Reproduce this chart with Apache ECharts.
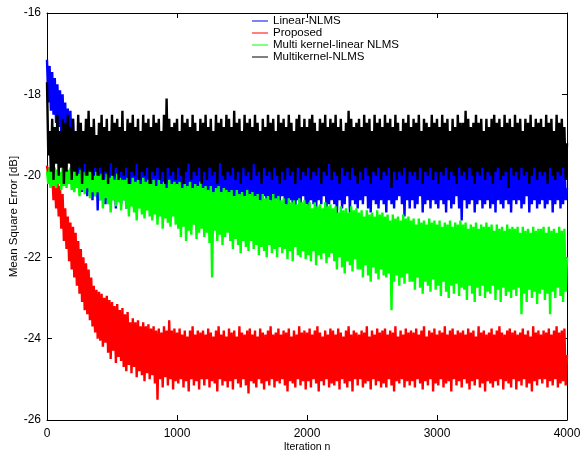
<!DOCTYPE html>
<html>
<head>
<meta charset="utf-8">
<script src="https://cdn.jsdelivr.net/npm/echarts@6/dist/echarts.min.js"></script>
<style>
html,body{margin:0;padding:0;background:#fff;}
#chart{width:580px;height:454px;}
</style>
</head>
<body>
<div id="chart"></div>
<script>
// Iterations between stored samples (samples at 0, 10, 20, ... 4000)
const iterStep = 10;

const seriesNames = ['Linear-NLMS', 'Proposed', 'Multi kernel-linear NLMS', 'Multikernel-NLMS'];

// Linear-NLMS (blue)
const linearNLMS = [
-17.15,-18.2,-17.3,-18.4,-17.45,-18.5,-17.6,-18.7,-17.75,-18.8,-17.9,-19.0,-18.0,-19.1,-18.2,-19.3,-18.35,-19.4,-18.4,-19.6,
-18.6,-19.8,-18.9,-20.0,-19.1,-20.2,-19.2,-20.4,-19.3,-20.3,-19.4,-20.5,-19.5,-20.4,-19.4,-20.6,-19.5,-20.5,-19.6,-20.85,
-19.5,-20.6,-19.6,-20.5,-19.4,-20.7,-19.6,-20.6,-19.5,-20.4,-19.7,-20.6,-19.5,-20.8,-19.6,-20.5,-19.4,-20.7,-19.6,-20.6,
-19.5,-20.8,-19.7,-20.5,-19.6,-20.7,-19.4,-20.6,-19.6,-20.9,-19.5,-20.6,-19.7,-20.5,-19.6,-20.7,-19.5,-20.6,-19.6,-20.8,
-19.4,-20.6,-19.6,-20.7,-19.5,-20.5,-19.7,-20.8,-19.6,-20.6,-19.5,-20.9,-19.6,-20.6,-19.4,-20.7,-19.6,-20.5,-19.5,-20.7,
-19.6,-20.6,-19.5,-20.8,-19.7,-20.6,-19.6,-21.0,-19.5,-20.7,-19.6,-20.5,-19.4,-20.8,-19.6,-20.6,-19.7,-20.7,-19.5,-20.9,
-19.6,-20.7,-19.5,-20.6,-19.7,-20.8,-19.6,-20.5,-19.4,-20.7,-19.6,-20.9,-19.5,-20.6,-19.7,-20.7,-19.6,-20.5,-19.5,-20.8,
-19.6,-20.6,-19.4,-20.7,-19.6,-20.8,-19.5,-20.6,-19.7,-21.0,-19.6,-20.7,-19.5,-20.5,-19.6,-20.8,-19.4,-20.6,-19.6,-20.7,
-19.5,-20.9,-19.7,-20.6,-19.6,-20.7,-19.5,-20.5,-19.6,-20.8,-19.4,-20.6,-19.6,-20.7,-19.7,-20.9,-19.5,-20.6,-19.6,-20.7,
-19.6,-20.5,-19.5,-20.7,-19.7,-20.8,-19.6,-20.6,-19.4,-20.7,-19.6,-20.9,-19.5,-20.6,-19.6,-20.8,-19.7,-20.5,-19.5,-20.7,
-19.6,-20.8,-19.4,-20.6,-19.6,-20.7,-19.5,-20.9,-19.7,-20.6,-19.6,-20.7,-19.5,-20.5,-19.6,-20.8,-19.4,-20.7,-19.6,-20.6,
-19.5,-20.7,-19.7,-21.0,-19.6,-20.6,-19.5,-20.8,-19.6,-20.7,-19.4,-20.5,-19.6,-20.9,-19.7,-20.6,-19.5,-20.7,-19.6,-20.8,
-19.6,-20.6,-19.5,-20.7,-19.7,-20.5,-19.6,-20.8,-19.4,-20.9,-19.6,-20.6,-19.5,-20.7,-19.6,-20.8,-19.7,-20.6,-19.5,-20.7,
-19.6,-20.9,-19.5,-20.6,-19.6,-20.7,-19.4,-20.8,-19.6,-20.6,-19.7,-20.5,-19.5,-20.7,-19.6,-21.0,-19.5,-20.6,-19.6,-20.8,
-19.7,-20.6,-19.5,-20.8,-19.6,-20.7,-19.5,-20.5,-19.6,-20.9,-19.4,-20.7,-19.6,-20.6,-19.7,-20.8,-19.5,-20.6,-19.6,-20.7,
-19.5,-20.8,-19.6,-20.6,-19.7,-20.7,-19.5,-20.9,-19.6,-20.6,-19.4,-20.8,-19.6,-20.7,-19.5,-20.5,-19.7,-20.8,-19.6,-21.1,
-19.6,-20.6,-19.5,-20.8,-19.6,-20.7,-19.7,-20.6,-19.5,-20.9,-19.6,-20.7,-19.4,-20.6,-19.6,-20.8,-19.5,-20.7,-19.7,-20.6,
-19.6,-20.8,-19.5,-20.7,-19.6,-20.9,-19.4,-20.6,-19.6,-20.7,-19.7,-20.8,-19.5,-20.6,-19.6,-20.7,-19.5,-20.9,-19.6,-20.6,
-19.7,-20.7,-19.5,-20.6,-19.6,-20.8,-19.5,-20.7,-19.6,-20.5,-19.4,-20.9,-19.6,-20.7,-19.7,-20.6,-19.5,-20.8,-19.6,-20.7,
-19.5,-20.6,-19.6,-20.8,-19.7,-20.7,-19.5,-20.6,-19.6,-20.9,-19.5,-20.7,-19.6,-20.6,-19.4,-20.8,-19.6,-20.7,-19.5,-20.6,
-20.3
];

// Proposed (red)
const proposed = [
-19.75,-20.0,-19.8,-20.3,-19.9,-20.6,-19.95,-20.8,-20.05,-21.0,-20.25,-21.3,-20.45,-21.6,-20.8,-21.8,-21.0,-22.1,-21.15,-22.3,
-21.25,-22.5,-21.4,-22.7,-21.6,-22.9,-21.8,-23.1,-22.0,-23.3,-22.15,-23.4,-22.3,-23.55,-22.5,-23.7,-22.7,-23.85,-22.8,-24.0,
-22.85,-24.05,-22.9,-24.2,-23.0,-24.1,-22.95,-24.35,-23.05,-24.5,-23.1,-24.3,-23.2,-24.6,-23.15,-24.45,-23.3,-24.55,-23.25,-24.7,
-23.4,-24.8,-23.35,-24.65,-23.6,-24.85,-23.5,-24.7,-23.6,-24.95,-23.55,-24.8,-23.7,-24.9,-23.6,-25.05,-23.7,-24.85,-23.65,-25.0,
-23.75,-24.9,-23.7,-25.1,-23.8,-25.5,-23.75,-25.0,-23.85,-25.2,-23.7,-24.95,-23.8,-25.15,-23.55,-25.0,-23.8,-25.25,-23.75,-25.05,
-23.85,-25.1,-23.75,-25.0,-23.9,-25.2,-23.8,-25.05,-23.95,-25.3,-23.8,-25.0,-23.7,-25.15,-23.9,-25.05,-23.8,-25.25,-23.85,-25.0,
-23.8,-25.15,-23.9,-25.0,-23.75,-25.2,-23.85,-25.05,-23.95,-25.1,-23.8,-25.3,-23.7,-25.0,-23.9,-25.15,-23.8,-25.05,-23.95,-25.2,
-23.75,-25.05,-23.85,-25.25,-23.8,-25.0,-23.95,-25.1,-23.7,-25.2,-23.85,-25.0,-23.9,-25.15,-23.8,-25.35,-23.75,-25.05,-23.9,-25.1,
-23.8,-25.2,-23.95,-25.0,-23.75,-25.1,-23.85,-25.25,-23.9,-25.05,-23.8,-25.15,-23.7,-25.0,-23.9,-25.2,-23.85,-25.05,-23.75,-25.1,
-23.9,-25.0,-23.8,-25.15,-23.85,-25.3,-23.75,-25.05,-23.95,-25.1,-23.8,-25.2,-23.9,-25.0,-23.7,-25.15,-23.85,-25.05,-23.8,-25.25,
-23.85,-25.05,-23.75,-25.2,-23.9,-25.0,-23.8,-25.1,-23.7,-25.3,-23.85,-25.05,-23.95,-25.15,-23.8,-25.0,-23.9,-25.2,-23.75,-25.1,
-23.8,-25.15,-23.9,-25.05,-23.75,-25.25,-23.85,-25.0,-23.95,-25.1,-23.8,-25.2,-23.7,-25.05,-23.9,-25.3,-23.8,-25.0,-23.85,-25.15,
-23.9,-25.0,-23.8,-25.2,-23.85,-25.1,-23.7,-25.05,-23.95,-25.25,-23.8,-25.0,-23.9,-25.15,-23.75,-25.05,-23.85,-25.2,-23.8,-25.1,
-23.75,-25.2,-23.9,-25.0,-23.8,-25.15,-23.85,-25.3,-23.7,-25.05,-23.95,-25.1,-23.8,-25.0,-23.9,-25.2,-23.75,-25.05,-23.85,-25.15,
-23.8,-25.05,-23.85,-25.2,-23.75,-25.0,-23.9,-25.1,-23.8,-25.25,-23.7,-25.05,-23.95,-25.15,-23.8,-25.0,-23.85,-25.3,-23.75,-25.1,
-23.9,-25.15,-23.8,-25.0,-23.85,-25.2,-23.7,-25.1,-23.9,-25.05,-23.8,-25.3,-23.75,-25.0,-23.9,-25.15,-23.8,-25.05,-23.85,-25.2,
-23.8,-25.0,-23.9,-25.1,-23.75,-25.25,-23.85,-25.05,-23.8,-25.15,-23.95,-25.0,-23.7,-25.2,-23.85,-25.1,-23.8,-25.3,-23.9,-25.05,
-23.85,-25.1,-23.75,-25.2,-23.9,-25.05,-23.8,-25.15,-23.7,-25.0,-23.85,-25.25,-23.9,-25.05,-23.8,-25.1,-23.75,-25.2,-23.85,-25.0,
-23.8,-25.25,-23.9,-25.05,-23.85,-25.15,-23.75,-25.0,-23.9,-25.2,-23.8,-25.1,-23.95,-25.3,-23.7,-25.05,-23.85,-25.15,-23.8,-25.0,
-23.9,-25.1,-23.8,-25.0,-23.85,-25.2,-23.75,-25.05,-23.9,-25.15,-23.8,-25.0,-23.7,-25.2,-23.85,-25.1,-23.8,-25.05,-23.75,-25.15,
-24.4
];

// Multi kernel-linear NLMS (green)
const multiKernelLinearNLMS = [
-19.9,-20.2,-19.8,-20.3,-19.9,-20.25,-19.8,-20.3,-19.85,-20.2,-19.9,-20.35,-19.8,-20.25,-19.9,-20.3,-19.85,-20.2,-19.8,-20.35,
-19.9,-20.4,-19.85,-20.3,-19.95,-20.5,-19.85,-20.35,-19.9,-20.45,-20.0,-20.3,-19.85,-20.55,-19.9,-20.4,-20.0,-20.5,-19.9,-20.4,
-20.0,-20.6,-19.95,-20.8,-20.1,-20.55,-19.95,-20.7,-20.05,-20.9,-20.0,-20.6,-20.1,-20.75,-19.95,-20.65,-20.05,-20.85,-20.1,-20.6,
-20.1,-20.8,-20.05,-21.0,-20.2,-20.75,-20.05,-20.9,-20.15,-21.1,-20.1,-20.8,-20.2,-20.95,-20.05,-21.05,-20.15,-20.85,-20.1,-21.0,
-20.2,-21.1,-20.1,-20.95,-20.25,-21.2,-20.1,-21.0,-20.2,-21.3,-20.15,-21.05,-20.3,-21.15,-20.1,-21.25,-20.2,-21.0,-20.15,-21.2,
-20.2,-21.3,-20.15,-21.5,-20.3,-21.25,-20.2,-21.6,-20.25,-21.35,-20.15,-21.45,-20.3,-21.2,-20.2,-21.55,-20.25,-21.4,-20.15,-21.3,
-20.3,-21.5,-20.25,-21.4,-20.35,-21.65,-20.25,-22.5,-20.4,-21.35,-20.3,-21.6,-20.25,-21.45,-20.4,-21.7,-20.3,-21.5,-20.35,-21.4,
-20.4,-21.6,-20.35,-21.8,-20.5,-21.55,-20.35,-21.7,-20.45,-21.9,-20.4,-21.6,-20.5,-21.75,-20.35,-21.85,-20.45,-21.6,-20.4,-21.8,
-20.5,-21.7,-20.45,-21.95,-20.6,-21.75,-20.45,-21.85,-20.55,-22.0,-20.5,-21.7,-20.6,-21.9,-20.45,-21.8,-20.55,-22.0,-20.5,-21.75,
-20.6,-21.9,-20.55,-21.8,-20.7,-22.05,-20.55,-21.85,-20.65,-22.1,-20.6,-21.75,-20.7,-21.95,-20.55,-22.0,-20.65,-21.85,-20.6,-22.05,
-20.7,-21.95,-20.65,-22.1,-20.8,-21.85,-20.65,-22.2,-20.75,-21.95,-20.7,-22.05,-20.8,-21.9,-20.65,-22.15,-20.75,-22.0,-20.7,-21.9,
-20.8,-22.1,-20.75,-22.3,-20.9,-22.0,-20.75,-22.25,-20.85,-22.4,-20.8,-22.1,-20.9,-22.2,-20.75,-22.35,-20.85,-22.05,-20.8,-22.3,
-20.9,-22.3,-20.85,-22.5,-21.0,-22.2,-20.85,-22.45,-20.95,-22.6,-20.9,-22.25,-21.0,-22.4,-20.85,-22.55,-20.95,-22.3,-20.9,-22.45,
-21.0,-22.5,-20.95,-22.4,-21.1,-23.3,-20.95,-22.6,-21.05,-22.45,-21.0,-22.7,-21.1,-22.5,-20.95,-22.65,-21.05,-22.4,-21.0,-22.6,
-21.1,-22.6,-21.05,-22.8,-21.2,-22.5,-21.05,-22.75,-21.15,-22.9,-21.1,-22.6,-21.2,-22.7,-21.05,-22.85,-21.15,-22.55,-21.1,-22.8,
-21.2,-22.7,-21.1,-22.95,-21.25,-22.6,-21.15,-22.85,-21.2,-23.0,-21.1,-22.7,-21.25,-22.9,-21.15,-22.65,-21.2,-22.95,-21.1,-22.75,
-21.2,-22.8,-21.15,-23.05,-21.3,-22.7,-21.2,-22.9,-21.25,-23.1,-21.15,-22.75,-21.3,-22.95,-21.2,-22.7,-21.25,-23.0,-21.15,-22.85,
-21.25,-22.9,-21.2,-22.7,-21.35,-23.05,-21.2,-22.8,-21.3,-23.1,-21.25,-22.75,-21.35,-22.95,-21.2,-22.85,-21.3,-23.0,-21.25,-22.8,
-21.3,-22.95,-21.25,-22.75,-21.4,-23.4,-21.25,-22.9,-21.35,-23.1,-21.3,-22.8,-21.4,-23.0,-21.25,-22.85,-21.35,-23.15,-21.3,-22.9,
-21.3,-22.8,-21.25,-23.05,-21.4,-22.9,-21.25,-23.4,-21.35,-22.85,-21.3,-23.0,-21.4,-22.75,-21.25,-22.95,-21.35,-23.1,-21.3,-22.85,
-22.0
];

// Multikernel-NLMS (black)
const multikernelNLMS = [
-17.7,-19.5,-18.9,-19.9,-18.6,-20.1,-18.8,-19.7,-18.5,-20.0,-18.9,-19.8,-18.6,-20.2,-18.7,-19.9,-18.5,-19.7,-18.8,-20.1,
-18.6,-19.9,-18.9,-20.0,-18.5,-19.8,-18.7,-20.2,-18.9,-19.7,-18.6,-20.0,-18.4,-19.9,-18.8,-20.1,-18.6,-19.8,-19.0,-20.0,
-18.7,-19.8,-18.5,-20.1,-18.8,-19.9,-18.6,-20.2,-18.9,-19.7,-18.5,-20.0,-18.7,-19.8,-18.6,-20.1,-18.8,-19.9,-18.4,-20.0,
-18.9,-19.8,-18.6,-20.2,-18.7,-19.9,-18.5,-20.0,-18.8,-19.7,-18.6,-20.1,-18.9,-19.9,-18.5,-20.0,-18.7,-19.8,-18.6,-20.2,
-18.8,-19.9,-18.5,-20.0,-18.7,-19.8,-18.6,-20.1,-18.9,-19.9,-18.5,-20.2,-18.1,-19.8,-18.6,-20.0,-18.8,-19.9,-18.7,-20.1,
-18.6,-19.8,-18.9,-20.0,-18.5,-20.2,-18.7,-19.9,-18.6,-19.7,-18.8,-20.1,-18.5,-19.9,-18.7,-20.0,-18.9,-19.8,-18.6,-20.2,
-18.7,-19.9,-18.5,-20.1,-18.8,-19.8,-18.6,-20.0,-18.9,-19.9,-18.5,-20.2,-18.7,-19.7,-18.6,-20.0,-18.8,-20.1,-18.5,-19.9,
-18.6,-20.0,-18.8,-19.8,-18.4,-20.1,-18.7,-19.9,-18.6,-20.2,-18.9,-19.8,-18.5,-20.0,-18.7,-19.9,-18.6,-20.1,-18.8,-19.7,
-18.5,-20.0,-18.7,-19.9,-18.9,-20.2,-18.6,-19.8,-18.8,-20.0,-18.5,-19.9,-18.7,-20.1,-18.6,-19.8,-18.9,-20.0,-18.5,-20.2,
-18.7,-19.9,-18.6,-20.1,-18.8,-19.8,-18.5,-20.0,-18.7,-19.9,-18.9,-20.2,-18.6,-19.8,-18.5,-20.1,-18.8,-19.9,-18.6,-20.0,
-18.8,-19.8,-18.6,-20.1,-18.5,-19.9,-18.7,-20.0,-18.9,-19.8,-18.6,-20.2,-18.7,-19.9,-18.5,-20.0,-18.8,-19.7,-18.6,-20.1,
-18.7,-19.9,-18.5,-20.0,-18.8,-20.2,-18.6,-19.8,-18.9,-20.0,-18.7,-19.9,-18.4,-20.1,-18.6,-19.8,-18.8,-20.0,-18.7,-20.2,
-18.6,-19.9,-18.8,-20.1,-18.5,-19.8,-18.7,-20.0,-18.6,-20.2,-18.9,-19.9,-18.5,-20.0,-18.7,-19.8,-18.6,-20.1,-18.8,-19.9,
-18.5,-20.0,-18.7,-19.8,-18.6,-20.3,-18.8,-19.9,-18.5,-20.1,-18.7,-19.9,-18.9,-20.0,-18.6,-19.8,-18.7,-20.2,-18.5,-19.9,
-18.8,-20.0,-18.6,-19.9,-18.7,-20.1,-18.5,-19.8,-18.9,-20.2,-18.6,-19.9,-18.7,-20.0,-18.8,-19.8,-18.5,-20.1,-18.7,-19.9,
-18.6,-20.2,-18.8,-19.9,-18.5,-20.0,-18.7,-19.8,-18.6,-20.1,-18.9,-19.9,-18.6,-20.0,-18.8,-20.2,-18.5,-19.8,-18.7,-20.0,
-18.7,-19.9,-18.4,-20.1,-18.6,-19.8,-18.8,-20.0,-18.7,-20.2,-18.5,-19.9,-18.7,-20.0,-18.6,-19.8,-18.9,-20.1,-18.6,-19.9,
-18.8,-20.0,-18.6,-20.2,-18.5,-19.9,-18.7,-19.8,-18.6,-20.1,-18.8,-20.0,-18.5,-19.9,-18.7,-20.3,-18.6,-19.8,-18.8,-20.0,
-18.5,-19.9,-18.7,-20.1,-18.6,-19.8,-18.9,-20.0,-18.6,-19.9,-18.7,-20.2,-18.5,-20.0,-18.8,-19.8,-18.6,-20.1,-18.7,-19.9,
-18.6,-20.0,-18.8,-19.9,-18.5,-20.2,-18.7,-19.8,-18.6,-20.0,-18.9,-20.1,-18.5,-19.9,-18.7,-20.0,-18.6,-19.8,-18.8,-20.1,
-19.2
];

const seriesValues = [linearNLMS, proposed, multiKernelLinearNLMS, multikernelNLMS];
const seriesColors = ['#0000ff', '#ff0000', '#00ff00', '#000000'];

const FONT = 'Liberation Sans, Arial, Helvetica, sans-serif';

function toPairs(arr) {
  return arr.map((v, i) => [i * iterStep, v]);
}

const chart = echarts.init(document.getElementById('chart'), null, {renderer: 'canvas'});

const axisCommon = {
  axisLine: {show: true, onZero: false, lineStyle: {color: '#000', width: 1}},
  axisTick: {show: true, inside: true, length: 5, lineStyle: {color: '#000', width: 1}},
  splitLine: {show: false}
};

const plainNum = v => String(v);

const option = {
  animation: false,
  backgroundColor: '#fff',
  grid: {left: 47, right: 13, top: 13, bottom: 34, containLabel: false, outerBoundsMode: 'none'},
  legend: {
    orient: 'vertical',
    left: 252,
    top: 15,
    padding: 0,
    itemGap: 0,
    itemWidth: 16,
    itemHeight: 1,
    icon: 'rect',
    data: seriesNames,
    textStyle: {fontSize: 11.5, fontFamily: FONT, color: '#000', lineHeight: 10.7}
  },
  xAxis: [
    Object.assign({}, axisCommon, {
      type: 'value', min: 0, max: 4000, interval: 1000, position: 'bottom',
      name: 'Iteration n', nameLocation: 'middle', nameGap: 22, nameMoveOverlap: false,
      nameTextStyle: {fontSize: 10.5, fontFamily: FONT, color: '#000'},
      axisLabel: {color: '#000', fontSize: 12, fontFamily: FONT, margin: 8, formatter: plainNum}
    }),
    Object.assign({}, axisCommon, {
      type: 'value', min: 0, max: 4000, interval: 1000, position: 'top',
      axisLabel: {show: false}
    })
  ],
  yAxis: [
    Object.assign({}, axisCommon, {
      type: 'value', min: -26, max: -16, interval: 2, position: 'left',
      name: 'Mean Square Error [dB]', nameLocation: 'middle', nameGap: 27, nameMoveOverlap: false,
      nameTextStyle: {fontSize: 11.5, fontFamily: FONT, color: '#000'},
      axisLabel: {color: '#000', fontSize: 12, fontFamily: FONT, margin: 6, formatter: plainNum}
    }),
    Object.assign({}, axisCommon, {
      type: 'value', min: -26, max: -16, interval: 2, position: 'right',
      axisLabel: {show: false}
    })
  ],
  series: seriesNames.map((name, k) => ({
    name: name,
    type: 'line',
    xAxisIndex: 0,
    yAxisIndex: 0,
    data: toPairs(seriesValues[k]),
    symbol: 'none',
    showSymbol: false,
    sampling: null,
    color: seriesColors[k],
    lineStyle: {color: seriesColors[k], width: 2.4},
    emphasis: {disabled: true},
    z: 2 + k
  }))
};

chart.setOption(option);
</script>
</body>
</html>
